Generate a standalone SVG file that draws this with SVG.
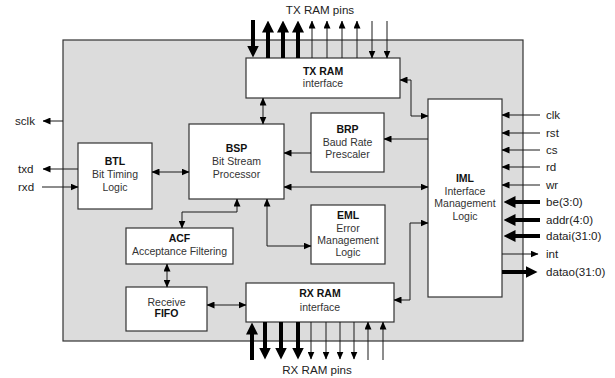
<svg xmlns="http://www.w3.org/2000/svg" width="615" height="378" viewBox="0 0 615 378">
  <style>
    .blk { fill: #ffffff; stroke: #333333; stroke-width: 1.2; }
    .t { font-family: "Liberation Sans", Arial, sans-serif; font-size: 10.5px; fill: #333333; text-anchor: middle; }
    .b { font-weight: bold; fill: #111111; }
    .lbl { font-family: "Liberation Sans", Arial, sans-serif; font-size: 11.6px; fill: #222222; }
    .w { fill: none; stroke: #1a1a1a; stroke-width: 1; }
    .one { marker-end: url(#ah); }
    .two { marker-start: url(#ah); marker-end: url(#ah); }
    .bus { fill: none; stroke: #000000; stroke-width: 4; marker-end: url(#bh); }
  </style>
  <defs>
    <marker id="ah" viewBox="0 0 8 7" markerWidth="8" markerHeight="7" refX="7.5" refY="3.5" orient="auto-start-reverse" markerUnits="userSpaceOnUse">
      <path d="M0,0 L8,3.5 L0,7 z" fill="#000000"/>
    </marker>
    <marker id="bh" viewBox="0 0 12 12" markerWidth="12" markerHeight="12" refX="0.5" refY="6" orient="auto" markerUnits="userSpaceOnUse">
      <path d="M0,0 L12,6 L0,12 z" fill="#000000"/>
    </marker>
  </defs>

  <!-- core boundary -->
  <rect x="63" y="40" width="460" height="301" fill="#dcdcdc" stroke="#333333" stroke-width="1.2"/>

  <!-- external labels -->
  <g id="labels">
    <text class="lbl" x="320" y="14" text-anchor="middle">TX RAM pins</text>
    <text class="lbl" x="317" y="374" text-anchor="middle">RX RAM pins</text>
    <text class="lbl" x="15" y="125">sclk</text>
    <text class="lbl" x="18" y="173">txd</text>
    <text class="lbl" x="18" y="191">rxd</text>
    <text class="lbl" x="546" y="119">clk</text>
    <text class="lbl" x="546" y="137">rst</text>
    <text class="lbl" x="546" y="154">cs</text>
    <text class="lbl" x="546" y="171">rd</text>
    <text class="lbl" x="546" y="189">wr</text>
    <text class="lbl" x="546" y="206">be(3:0)</text>
    <text class="lbl" x="546" y="224">addr(4:0)</text>
    <text class="lbl" x="546" y="240">datai(31:0)</text>
    <text class="lbl" x="546" y="258">int</text>
    <text class="lbl" x="546" y="276">datao(31:0)</text>
  </g>

  <!-- blocks -->
  <g id="txram">
    <rect class="blk" x="246" y="58" width="154" height="40"/>
    <text class="t b" x="323" y="75">TX RAM</text>
    <text class="t" x="323" y="87">interface</text>
  </g>
  <g id="rxram">
    <rect class="blk" x="246" y="283" width="148" height="39"/>
    <text class="t b" x="320" y="297">RX RAM</text>
    <text class="t" x="320" y="311">interface</text>
  </g>
  <g id="btl">
    <rect class="blk" x="78" y="143" width="74" height="66"/>
    <text class="t b" x="115" y="165">BTL</text>
    <text class="t" x="115" y="178">Bit Timing</text>
    <text class="t" x="115" y="190.5">Logic</text>
  </g>
  <g id="bsp">
    <rect class="blk" x="189" y="124" width="95" height="75"/>
    <text class="t b" x="236.5" y="152">BSP</text>
    <text class="t" x="236.5" y="165">Bit Stream</text>
    <text class="t" x="236.5" y="177.5">Processor</text>
  </g>
  <g id="brp">
    <rect class="blk" x="311" y="113" width="73" height="59"/>
    <text class="t b" x="347.5" y="133">BRP</text>
    <text class="t" x="347.5" y="145.5">Baud Rate</text>
    <text class="t" x="347.5" y="158">Prescaler</text>
  </g>
  <g id="eml">
    <rect class="blk" x="311" y="205" width="74" height="59"/>
    <text class="t b" x="348" y="219">EML</text>
    <text class="t" x="348" y="231.5">Error</text>
    <text class="t" x="348" y="243.5">Management</text>
    <text class="t" x="348" y="256">Logic</text>
  </g>
  <g id="acf">
    <rect class="blk" x="126" y="228" width="107" height="36"/>
    <text class="t b" x="179.5" y="242">ACF</text>
    <text class="t" x="179.5" y="255">Acceptance Filtering</text>
  </g>
  <g id="fifo">
    <rect class="blk" x="126" y="287" width="81" height="44"/>
    <text class="t" x="166.5" y="305.5">Receive</text>
    <text class="t b" x="166.5" y="317">FIFO</text>
  </g>
  <g id="iml">
    <rect class="blk" x="428" y="99" width="74" height="198"/>
    <text class="t b" x="465" y="182">IML</text>
    <text class="t" x="465" y="194.5">Interface</text>
    <text class="t" x="465" y="207">Management</text>
    <text class="t" x="465" y="219.5">Logic</text>
  </g>

  <!-- connectors -->
  <g id="connectors">
    <!-- left side -->
    <path class="w one" d="M63,121 H43"/>
    <path class="w one" d="M78,169 H43"/>
    <path class="w one" d="M42,187 H78"/>
    <!-- internal -->
    <path class="w two" d="M152,172 H189"/>
    <path class="w two" d="M263,124 V98"/>
    <path class="w one" d="M311,153 H284"/>
    <path class="w one" d="M428,139 H384"/>
    <path class="w two" d="M284,187 H428"/>
    <path class="w two" d="M400,80 H411 V116 H428"/>
    <path class="w two" d="M394,300 H410 V223 H428"/>
    <path class="w two" d="M267,199 V246 H311"/>
    <path class="w two" d="M182,228 V212 H237 V199"/>
    <path class="w two" d="M167,264 V287"/>
    <path class="w two" d="M207,305 H246"/>
    <!-- host interface -->
    <path class="w one" d="M540,115 H502"/>
    <path class="w one" d="M540,133 H502"/>
    <path class="w one" d="M540,150 H502"/>
    <path class="w one" d="M540,167 H502"/>
    <path class="w one" d="M540,185 H502"/>
    <path class="bus" d="M540,202 H515"/>
    <path class="bus" d="M540,220 H515"/>
    <path class="bus" d="M540,236 H515"/>
    <path class="w one" d="M502,254 H538"/>
    <path class="bus" d="M502,272 H526"/>
    <!-- TX RAM pins -->
    <path class="bus" d="M253,20 V46"/>
    <path class="bus" d="M268,58 V32"/>
    <path class="bus" d="M283,58 V32"/>
    <path class="bus" d="M298,58 V32"/>
    <path class="w one" d="M312,58 V21"/>
    <path class="w one" d="M327,58 V21"/>
    <path class="w one" d="M342,58 V21"/>
    <path class="w one" d="M357,58 V21"/>
    <path class="w one" d="M372,21 V58"/>
    <path class="w one" d="M387,21 V58"/>
    <!-- RX RAM pins -->
    <path class="bus" d="M252,360 V334"/>
    <path class="bus" d="M265,322 V348"/>
    <path class="bus" d="M281,322 V348"/>
    <path class="bus" d="M298,322 V348"/>
    <path class="w one" d="M311,322 V359"/>
    <path class="w one" d="M326,322 V359"/>
    <path class="w one" d="M340,322 V359"/>
    <path class="w one" d="M354,322 V359"/>
    <path class="w one" d="M368,360 V322"/>
    <path class="w one" d="M383,360 V322"/>
  </g>
</svg>
